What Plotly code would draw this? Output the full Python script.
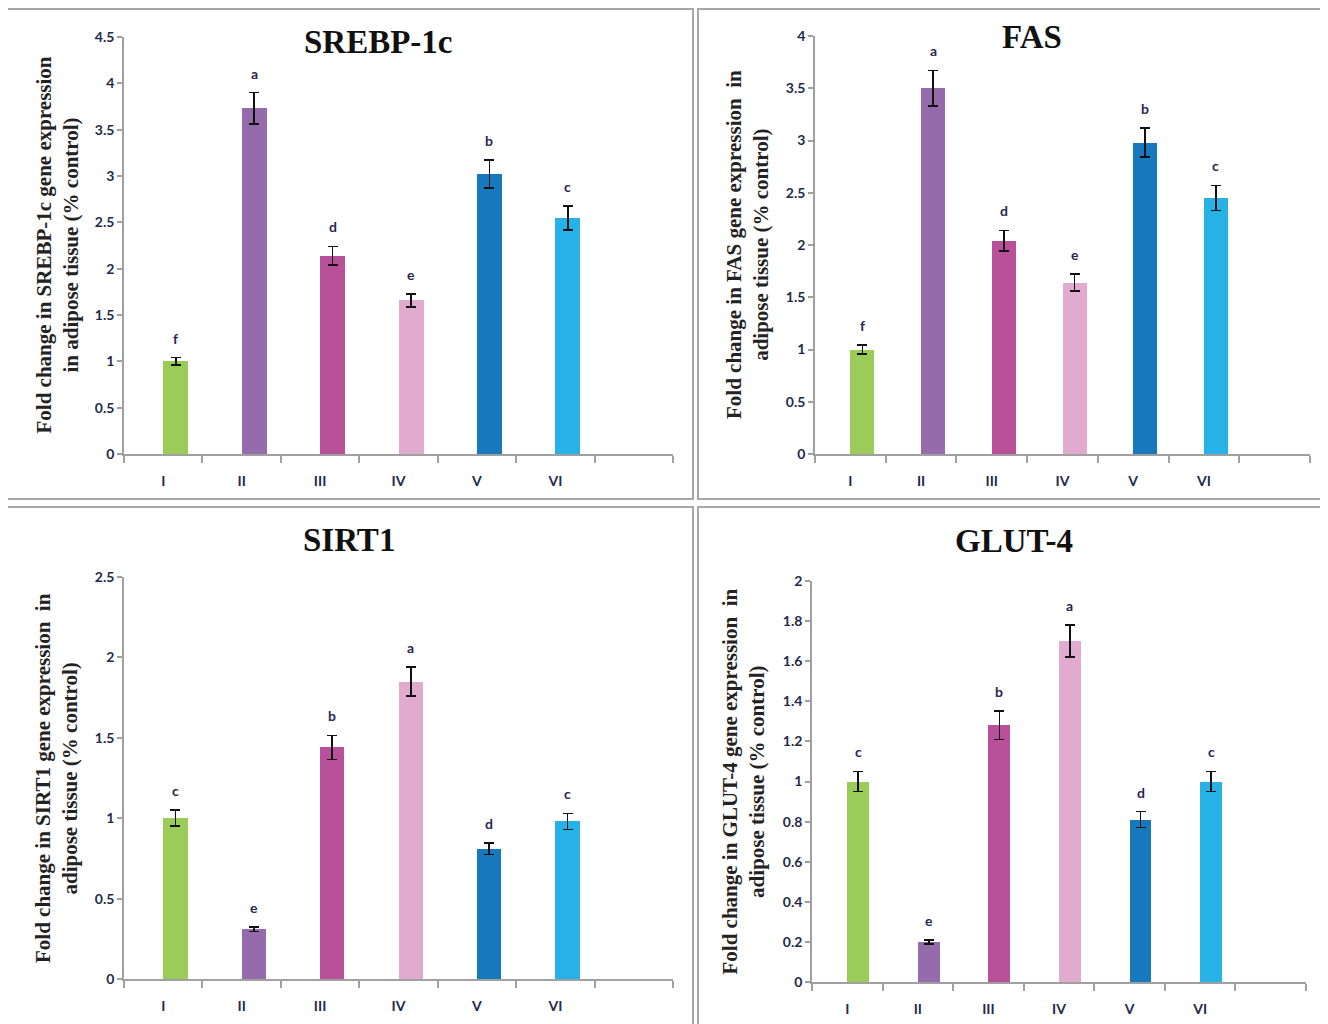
import plotly.graph_objects as go

W, H = 1328, 1024
OFF = 8  # browser body margin compensation (pixels)

groups = ["I", "II", "III", "IV", "V", "VI"]
colors = ["#9BCB59", "#966BAC", "#B8519A", "#E1ABD0", "#1878BE", "#27B2E7"]

titles = ["SREBP-1c", "FAS", "SIRT1", "GLUT-4"]

srebp_vals = [1.00, 3.73, 2.14, 1.66, 3.02, 2.55]
srebp_err = [0.04, 0.17, 0.10, 0.07, 0.15, 0.13]
srebp_sig = ["f", "a", "d", "e", "b", "c"]

fas_vals = [1.00, 3.50, 2.04, 1.64, 2.98, 2.45]
fas_err = [0.04, 0.17, 0.10, 0.08, 0.14, 0.12]
fas_sig = ["f", "a", "d", "e", "b", "c"]

sirt_vals = [1.00, 0.31, 1.44, 1.85, 0.81, 0.98]
sirt_err = [0.05, 0.015, 0.075, 0.09, 0.035, 0.05]
sirt_sig = ["c", "e", "b", "a", "d", "c"]

glut_vals = [1.00, 0.20, 1.28, 1.70, 0.81, 1.00]
glut_err = [0.05, 0.01, 0.07, 0.08, 0.04, 0.05]
glut_sig = ["c", "e", "b", "a", "d", "c"]

ytitles = [
    "Fold change in SREBP-1c gene expression<br>in adipose tissue (% control)",
    "Fold change in FAS gene expression  in<br>adipose tissue (% control)",
    "Fold change in SIRT1 gene expression  in<br>adipose tissue (% control)",
    "Fold change in GLUT-4 gene expression  in<br>adipose tissue (% control)",
]

y_ranges = [4.5, 4.0, 2.5, 2.0]
y_dticks = [0.5, 0.5, 0.5, 0.2]
bar_widths = [0.32, 0.34, 0.31, 0.31]

# plot area pixel boxes (reference pixels): (x0, x1, ytop, ybottom)
boxes = [
    (124, 673, 37, 454),
    (815, 1310, 36, 454),
    (124, 673, 577, 979),
    (812, 1306, 581, 982),
]
title_pos = [(378, 42), (1032, 37), (349, 540), (1014, 541)]
ytitle_x = [57, 747, 56, 743]
panels = [(7, 9, 693, 499), (698, 9, 1340, 499), (7, 507, 693, 1040), (698, 507, 1340, 1040)]

data = [
    (srebp_vals, srebp_err, srebp_sig),
    (fas_vals, fas_err, fas_sig),
    (sirt_vals, sirt_err, sirt_sig),
    (glut_vals, glut_err, glut_sig),
]


def px(x):
    return (x - OFF) / W


def py(y):
    return 1 - (y - OFF) / H


fig = go.Figure()
axis_grey = "#A0A0A0"
tick_font = dict(family="Lato, Open Sans, sans-serif", size=14, color="#1F2A4A", weight="bold")

annotations = []
shapes = []
for i, (vals, errs, sig) in enumerate(data):
    n = i + 1
    xa = "x" if n == 1 else f"x{n}"
    ya = "y" if n == 1 else f"y{n}"
    xpos = list(range(len(groups)))
    bw = bar_widths[i]
    fig.add_trace(go.Bar(
        x=xpos, y=vals, width=bw, offset=0,
        marker=dict(color=colors, line=dict(width=0)),
        error_y=dict(type="data", array=errs, visible=True, color="#111111",
                     thickness=1.7, width=5),
        xaxis=xa, yaxis=ya, showlegend=False,
    ))
    x0, x1, yt, yb = boxes[i]
    xdom = [px(x0), px(x1)]
    ydom = [py(yb), py(yt)]
    fig.layout[f"xaxis{'' if n == 1 else n}"] = dict(
        domain=xdom, anchor=ya, range=[-0.5, 6.5], automargin=False,
        tickvals=xpos, ticktext=groups, ticks="outside", ticklen=0,
        ticklabelstandoff=13,
        showline=True, linecolor=axis_grey, linewidth=1.5,
        showgrid=False, zeroline=False, tickfont=tick_font,
        minor=dict(tickvals=[k - 0.5 for k in range(8)], ticks="outside",
                   ticklen=7, tickcolor=axis_grey, tickwidth=1.5, showgrid=False),
        fixedrange=True,
    )
    fig.layout[f"yaxis{'' if n == 1 else n}"] = dict(
        domain=ydom, anchor=xa, range=[0, y_ranges[i]], dtick=y_dticks[i],
        automargin=False,
        ticks="outside", ticklen=5, tickcolor=axis_grey, tickwidth=1.5,
        showline=True, linecolor=axis_grey, linewidth=1.5,
        showgrid=False, zeroline=False, tickfont=tick_font,
        fixedrange=True,
    )
    # significance letters
    for k, (v, e, s) in enumerate(zip(vals, errs, sig)):
        annotations.append(dict(
            x=k + bw / 2, y=v + e, xref=xa, yref=ya, text=s, showarrow=False,
            yanchor="bottom", yshift=9,
            font=dict(family="Lato, Open Sans, sans-serif", size=14, color="#2A2550", weight="bold"),
        ))
    # panel title
    tx, ty = title_pos[i]
    annotations.append(dict(
        x=px(tx), y=py(ty), xref="paper", yref="paper", text=f"<b>{titles[i]}</b>",
        showarrow=False, xanchor="center", yanchor="middle",
        font=dict(family="Liberation Serif, Times New Roman, serif", size=33, color="#111111"),
    ))
    # y axis title
    annotations.append(dict(
        x=px(ytitle_x[i]), y=py((yt + yb) / 2), xref="paper", yref="paper",
        text=f"<b>{ytitles[i]}</b>", textangle=-90, showarrow=False,
        xanchor="center", yanchor="middle",
        font=dict(family="Liberation Serif, Times New Roman, serif", size=21, color="#222222"),
    ))
    px0, py0, px1, py1 = panels[i]
    shapes.append(dict(
        type="rect", xref="paper", yref="paper",
        x0=px(px0), x1=px(px1), y0=py(py1), y1=py(py0),
        line=dict(color="#A8A8A8", width=2), fillcolor="rgba(0,0,0,0)", layer="below",
    ))

fig.update_layout(
    width=W, height=H, margin=dict(l=0, r=0, t=0, b=0, autoexpand=False),
    paper_bgcolor="white", plot_bgcolor="white",
    annotations=annotations, shapes=shapes, bargap=0,
)

fig.write_html("out.html")
